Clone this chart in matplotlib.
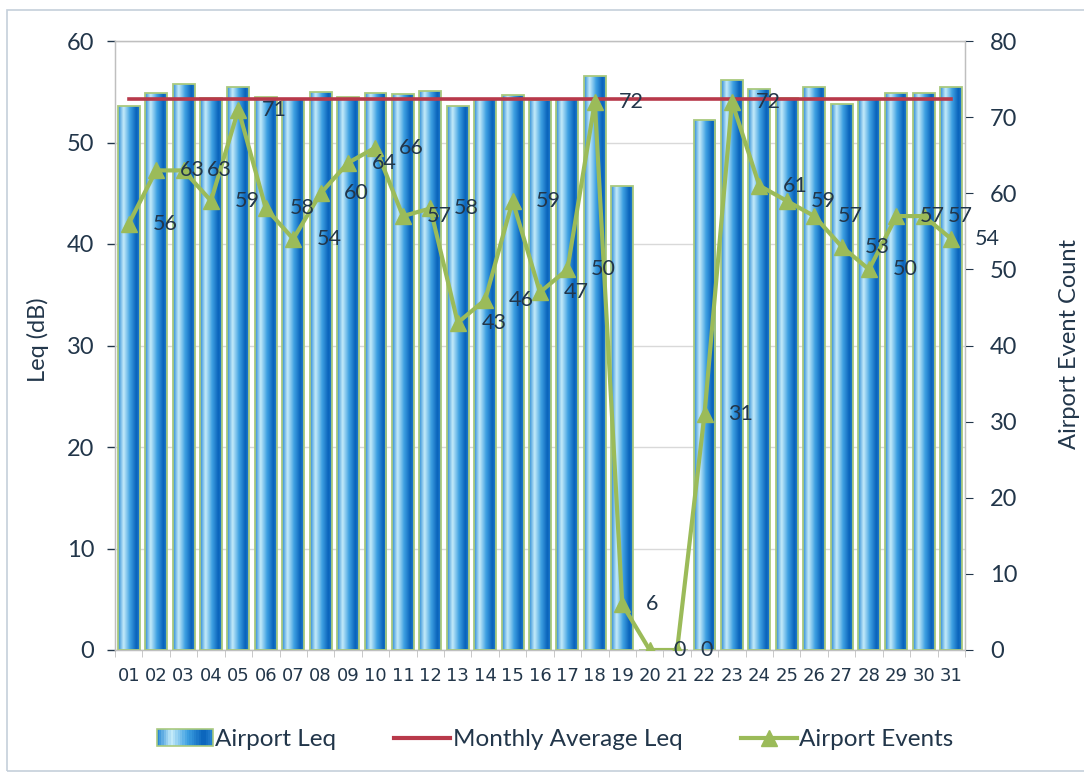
import numpy as np
import matplotlib
matplotlib.use("Agg")
import matplotlib.pyplot as plt
from matplotlib.colors import LinearSegmentedColormap
from matplotlib.patches import Rectangle
from matplotlib.lines import Line2D
from matplotlib.legend_handler import HandlerBase

plt.rcParams['font.family'] = ['Lato', 'DejaVu Sans']

# ---------------- data ----------------
days = ["01", "02", "03", "04", "05", "06", "07", "08", "09", "10",
        "11", "12", "13", "14", "15", "16", "17", "18", "19", "20",
        "21", "22", "23", "24", "25", "26", "27", "28", "29", "30", "31"]
airport_leq = [53.6, 54.9, 55.8, 54.4, 55.5, 54.5, 54.3, 55.0, 54.5, 54.9,
               54.8, 55.1, 53.6, 54.3, 54.7, 54.2, 54.3, 56.6, 45.7, 0.0,
               0.0, 52.2, 56.2, 55.3, 54.4, 55.5, 53.8, 54.3, 54.9, 54.9, 55.5]
monthly_avg_leq = 54.25
airport_events = [56, 63, 63, 59, 71, 58, 54, 60, 64, 66,
                  57, 58, 43, 46, 59, 47, 50, 72, 6, 0,
                  0, 31, 72, 61, 59, 57, 53, 50, 57, 57, 54]
left_ticks = [0, 10, 20, 30, 40, 50, 60]
right_ticks = [0, 10, 20, 30, 40, 50, 60, 70, 80]

# ---------------- style ----------------
TXT = '#22364A'
GREEN = '#9BBB59'
RED = '#B8394A'
GRID = '#D9D9D9'
bar_cmap = LinearSegmentedColormap.from_list(
    'barg', [(0.0, '#2A8AD5'), (0.25, '#C6ECFA'), (0.55, '#3FA1E2'),
             (0.85, '#0862BA'), (1.0, '#2580CF')])

fig = plt.figure(figsize=(10.84, 7.74), dpi=100)
fig.patch.set_facecolor('white')
# chart border
fig.add_artist(Rectangle((7 / 1084, 3 / 774), 1.1, 761 / 774, transform=fig.transFigure,
                         fill=False, edgecolor='#C5CFDA', linewidth=1.2))

ax = fig.add_axes([115 / 1084, 1 - 650 / 774, (965 - 115) / 1084, (650 - 41) / 774])
x = np.arange(1, len(days) + 1)

bars = ax.bar(x, airport_leq, width=0.8, facecolor='none', edgecolor='#A9C97E',
              linewidth=1.3, zorder=3)
grad = np.linspace(0, 1, 64).reshape(1, -1)
for b in bars:
    h = b.get_height()
    if h <= 0:
        continue
    x0 = b.get_x()
    im = ax.imshow(grad, cmap=bar_cmap, aspect='auto', interpolation='bilinear',
                   extent=(x0, x0 + b.get_width(), 0, h), zorder=2)
    im.set_clip_path(b)

ax.plot(x, np.full(len(x), monthly_avg_leq), color=RED, linewidth=2.6, zorder=4)

ax.set_xlim(0.5, len(days) + 0.5)
ax.set_ylim(0, 60)
ax.set_yticks(left_ticks)
ax.set_xticks(x)
ax.set_xticklabels(days, family=['Liberation Sans Narrow', 'DejaVu Sans'],
                   fontsize=13, color=TXT)
ax.set_xticks(np.arange(0.5, len(days) + 1, 1), minor=True)
ax.tick_params(axis='x', which='major', length=0, pad=12)
ax.tick_params(axis='x', which='minor', length=5, color='#BFBFBF')
ax.tick_params(axis='y', labelsize=17, colors=TXT, length=6, width=1, pad=9)
for t in ax.get_yticklines():
    t.set_color('#BFBFBF')
ax.grid(axis='y', color=GRID, linewidth=1, zorder=0)
ax.set_axisbelow(True)
for s in ax.spines.values():
    s.set_color('#BFBFBF')
    s.set_linewidth(1)
fig.text(38 / 1084, 1 - 340 / 774, 'Leq (dB)', rotation=90, ha='center', va='center',
         fontsize=17, color=TXT)

ax2 = ax.twinx()
ax2.plot(x, airport_events, color=GREEN, linewidth=3, marker='^',
         markersize=11, markerfacecolor=GREEN, markeredgecolor=GREEN, zorder=5)
ax2.set_ylim(0, 80)
ax2.set_yticks(right_ticks)
ax2.tick_params(axis='y', labelsize=17, colors=TXT, length=6, pad=12)
for t in ax2.get_yticklines():
    t.set_color('#BFBFBF')
for s in ax2.spines.values():
    s.set_color('#BFBFBF')
fig.text(1070 / 1084, 1 - 344 / 774, 'Airport Event Count', rotation=90, ha='center',
         va='center', fontsize=17, color=TXT)
for xi, v in zip(x, airport_events):
    ax2.annotate(str(v), (xi, v), xytext=(17, 0), textcoords='offset points',
                 ha='left', va='center', fontsize=15.5, color=TXT, zorder=6)


class GradHandler(HandlerBase):
    def create_artists(self, legend, orig_handle, xdescent, ydescent, width, height,
                       fontsize, trans):
        arts = []
        n = 24
        for i in range(n):
            r = Rectangle((-xdescent + width * i / n, -ydescent), width / n + 0.3, height,
                          facecolor=bar_cmap(i / (n - 1)), edgecolor='none', transform=trans)
            arts.append(r)
        arts.append(Rectangle((-xdescent, -ydescent), width, height, facecolor='none',
                              edgecolor='#A9C97E', linewidth=1.2, transform=trans))
        return arts


bar_handle = Rectangle((0, 0), 1, 1)
red_handle = Line2D([], [], color=RED, linewidth=3)
green_handle = Line2D([], [], color=GREEN, linewidth=3, marker='^', markersize=11)
fig.legend([bar_handle, red_handle, green_handle],
           ['Airport Leq', 'Monthly Average Leq', 'Airport Events'],
           handler_map={bar_handle: GradHandler()},
           loc='center', bbox_to_anchor=(0.512, 0.044), ncol=3, frameon=False,
           fontsize=17.5, handlelength=2.3, handletextpad=0.1, columnspacing=2.4,
           labelcolor=TXT)

fig.savefig('out.png', dpi=100, facecolor='white')
